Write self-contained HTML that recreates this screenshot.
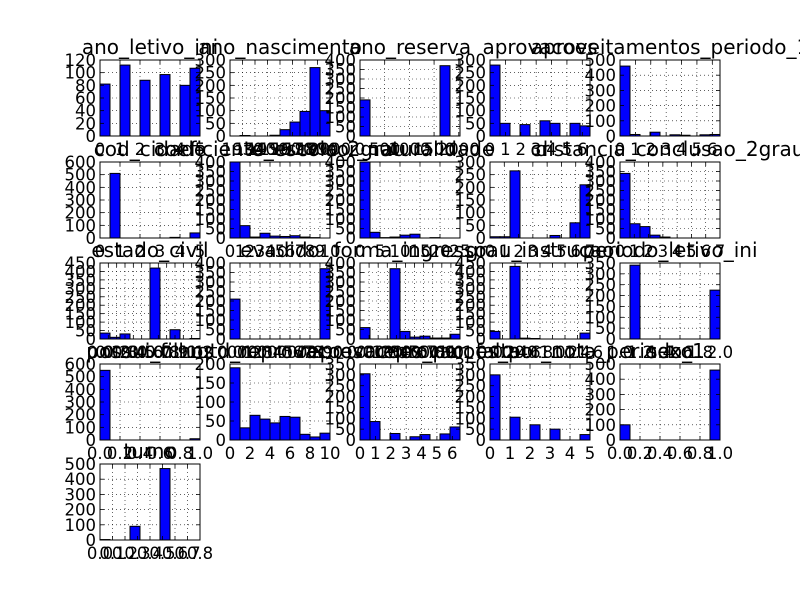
<!DOCTYPE html>
<html><head><meta charset="utf-8">
<style>
html,body{margin:0;padding:0;background:#fff;}
svg{display:block;}
text{font-family:"DejaVu Sans","Liberation Sans",sans-serif;fill:#000;}
</style></head>
<body>
<svg id="fig" width="800" height="600" viewBox="0 0 800 600" xmlns="http://www.w3.org/2000/svg">
<rect x="0" y="0" width="800" height="600" fill="#fff"/>
</svg>
<script>
const titles = ["ano_letivo_ini","ano_nascimento","ano_reserva","aprovacoes","aproveitamentos_periodo_1",
"cod_cidade","coeficiente_escola_2grau","cor_naturalidade","cr","distancia_conclusao_2grau",
"estado_civil","evadido","forma_ingresso","grau_instrucao","periodo_letivo_ini",
"possui_filhos","qtd_reprovacoes","reprovacoes_por_falta","reprovacoes_por_nota_periodo_1","sexo",
"turno"];
const binCounts = [
[82,0,112,0,88,0,97,0,80,107],
[0,2,0,0,3,25,55,97,270,100],
[190,0,0,0,0,0,0,0,370,0],
[280,50,0,45,0,60,50,0,50,40],
[460,10,0,25,0,8,5,0,8,10],
[0,510,0,0,0,0,0,5,0,40],
[400,65,5,25,10,8,12,5,2,0],
[400,30,2,5,15,20,0,2,0,0],
[5,5,265,0,0,0,10,0,60,210],
[340,75,60,15,5,0,0,0,0,0],
[35,10,30,0,0,420,0,55,0,3],
[210,0,0,0,0,0,0,0,0,370],
[60,0,0,370,40,10,15,5,5,25],
[45,0,430,5,3,0,0,0,0,35],
[0,340,0,0,0,0,0,0,0,225],
[550,0,0,0,0,0,0,0,0,10],
[190,32,65,55,45,62,60,15,8,18],
[305,85,0,30,0,15,25,0,28,60],
[300,0,105,0,70,0,50,0,0,25],
[100,0,0,0,0,0,0,0,0,460],
[3,0,0,90,0,0,470,0,0,0]
];
const yMax = [120,300,400,300,500, 600,400,400,300,400, 450,400,400,450,350, 600,200,350,350,500, 500];
const yStep = [20,50,50,50,100, 100,50,50,50,50, 50,50,50,50,50, 100,50,50,50,100, 100];
const xMin = [0,1920,0,0,0, 0,0,0,0,0, 0,0,0,0,1, 0,0,0,0,0, 0];
const xMax = [5,2000,2025,6.5,6.5, 5,10,25,7,7, 1.2,1,1.1,1.6,2, 1,10,6.5,5,1, 0.8];
const xTickLabels = [
["0","1","2","3","4","5"],
["1930","1940","1950","1960","1970","1980","1990","2000"],
["0","500","1000","1500","2000"],
["0","1","2","3","4","5","6"],
["0","1","2","3","4","5","6"],
["0","1","2","3","4","5"],
["0","1","2","3","4","5","6","7","8","9","10"],
["0","5","10","15","20","25"],
["0","1","2","3","4","5","6","7"],
["0","1","2","3","4","5","6","7"],
["0.0","0.1","0.2","0.3","0.4","0.5","0.6","0.7","0.8","0.9","1.0","1.1","1.2"],
["0.0","0.1","0.2","0.3","0.4","0.5","0.6","0.7","0.8","0.9","1.0"],
["0.0","0.1","0.2","0.3","0.4","0.5","0.6","0.7","0.8","0.9","1.0","1.1"],
["0.0","0.2","0.4","0.6","0.8","1.0","1.2","1.4","1.6"],
["1.0","1.2","1.4","1.6","1.8","2.0"],
["0.0","0.2","0.4","0.6","0.8","1.0"],
["0","2","4","6","8","10"],
["0","1","2","3","4","5","6"],
["0","1","2","3","4","5"],
["0.0","0.2","0.4","0.6","0.8","1.0"],
["0.0","0.1","0.2","0.3","0.4","0.5","0.6","0.7","0.8"]
];
const NS = "http://www.w3.org/2000/svg";
const svg = document.getElementById('fig');
const colX = [100,230,360,490,620], rowY = [60,162,263,364,464];
const W = 100, H = 76;
function mk(tag, attrs, parent){
  const e = document.createElementNS(NS, tag);
  for (const k in attrs) e.setAttribute(k, attrs[k]);
  parent.appendChild(e);
  return e;
}
titles.forEach((t, i) => {
  const x0 = colX[i % 5], y0 = rowY[Math.floor(i / 5)];
  const g = mk('g', {}, svg);
  
  
  const xs = v => x0 + (v - xMin[i]) / (xMax[i] - xMin[i]) * W;
  const ys = v => y0 + H - v / yMax[i] * H;
  mk('rect', {x:x0, y:y0, width:W, height:H, fill:'#fff'}, g);
  // grid
  const labs = xTickLabels[i];
  labs.forEach(l => {
    const v = parseFloat(l), px = xs(v);
    if (px > x0 + 0.5 && px < x0 + W - 0.5) mk('line', {x1:px, x2:px, y1:y0, y2:y0+H, stroke:'#000', 'stroke-width':0.6, 'stroke-dasharray':'1,3'}, g);
  });
  for (let v = 0; v <= yMax[i] + 1e-9; v += yStep[i]) {
    const py = ys(v);
    if (py > y0 + 0.5 && py < y0 + H - 0.5) mk('line', {x1:x0, x2:x0+W, y1:py, y2:py, stroke:'#000', 'stroke-width':0.6, 'stroke-dasharray':'1,3'}, g);
  }
  // bars
  const bins = binCounts[i], n = bins.length;
  bins.forEach((c, b) => {
    if (c <= 0) return;
    const bw = W / n, bx = x0 + b * bw, by = ys(c);
    const r = mk('rect', {x:bx, y:by, width:bw, height:y0 + H - by, fill:'#0000ff', stroke:'#000', 'stroke-width':1}, g);
    
    
  });
  // frame
  mk('rect', {x:x0, y:y0, width:W, height:H, fill:'none', stroke:'#000', 'stroke-width':1}, g);
  // y ticks
  for (let v = 0; v <= yMax[i] + 1e-9; v += yStep[i]) {
    const py = ys(v);
    mk('line', {x1:x0, x2:x0+4, y1:py, y2:py, stroke:'#000', 'stroke-width':0.8}, g);
    mk('line', {x1:x0+W-4, x2:x0+W, y1:py, y2:py, stroke:'#000', 'stroke-width':0.8}, g);
    const tx = mk('text', {x:x0 - 4, y:py + 6, 'text-anchor':'end', 'font-size':16.5}, g);
    tx.textContent = String(v);
  }
  // x ticks
  labs.forEach(l => {
    const v = parseFloat(l), px = xs(v);
    mk('line', {x1:px, x2:px, y1:y0+H, y2:y0+H-4, stroke:'#000', 'stroke-width':0.8}, g);
    mk('line', {x1:px, x2:px, y1:y0, y2:y0+4, stroke:'#000', 'stroke-width':0.8}, g);
    const tx = mk('text', {x:px, y:y0 + H + 19, 'text-anchor':'middle', 'font-size':16.5}, g);
    tx.textContent = l;
  });
  const tt = mk('text', {x:x0 + W/2, y:y0 - 6, 'text-anchor':'middle', 'font-size':20}, g);
  
  
  tt.textContent = t;
});
</script>
</body></html>
